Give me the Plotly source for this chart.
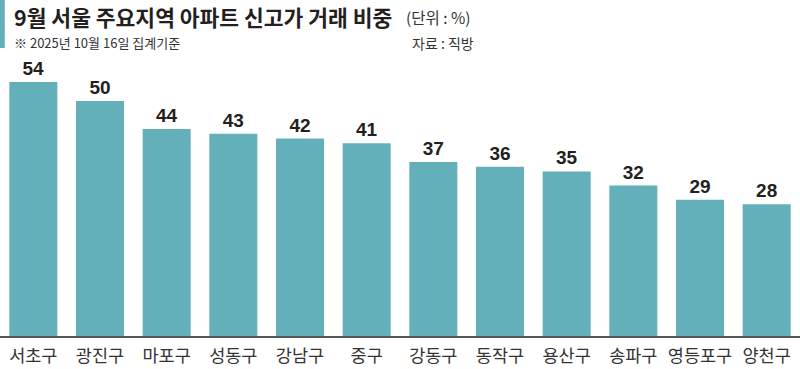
import plotly.graph_objects as go

districts = ["서초구", "광진구", "마포구", "성동구", "강남구", "중구",
             "강동구", "동작구", "용산구", "송파구", "영등포구", "양천구"]
shares = [54, 50, 44, 43, 42, 41, 37, 36, 35, 32, 29, 28]

title_text = "9월 서울 주요지역 아파트 신고가 거래 비중"
unit_text = "(단위 : %)"
note_text = "※ 2025년 10월 16일 집계기준"
source_text = "자료 : 직방"

FONT = "Noto Sans CJK KR"
H = 369
T, B = 60, 33
PH = H - T - B


def py(pix):
    return (H - B - pix) / PH


fig = go.Figure()
fig.add_trace(go.Bar(
    x=districts, y=shares,
    marker=dict(color="#63AFBA", line=dict(width=0)),
    text=["<b>%d</b>" % v for v in shares],
    textposition="outside",
    cliponaxis=False,
    textfont=dict(family="Liberation Sans, Arial", size=19, color="#231F20"),
    hoverinfo="skip",
))

fig.update_layout(
    width=800, height=H,
    margin=dict(l=0, r=0, t=T, b=B),
    paper_bgcolor="white", plot_bgcolor="white",
    bargap=0.28,
    showlegend=False,
    xaxis=dict(
        type="category",
        range=[-0.5, len(districts) - 0.5],
        showgrid=False, zeroline=False,
        showline=True, linecolor="#555555", linewidth=2,
        ticks="", tickfont=dict(family=FONT, size=17.5, color="#333333"),
        ticklabelstandoff=3,
    ),
    yaxis=dict(
        range=[0, 58.7], visible=False, showgrid=False, zeroline=False,
    ),
    shapes=[dict(type="rect", xref="paper", yref="paper",
                 x0=0, x1=0.006, y0=py(48), y1=py(0),
                 fillcolor="#63AFBA", line=dict(width=0), layer="above")],
    annotations=[
        dict(text="<b>" + title_text + "</b>", xref="paper", yref="paper",
             x=12 / 800, y=py(17), xanchor="left", yanchor="middle",
             showarrow=False, font=dict(family=FONT, size=21.5, color="#231F20")),
        dict(text=unit_text, xref="paper", yref="paper",
             x=404 / 800, y=py(17), xanchor="left", yanchor="middle",
             showarrow=False, font=dict(family=FONT, size=15.5, color="#333333")),
        dict(text=note_text, xref="paper", yref="paper",
             x=12 / 800, y=py(43), xanchor="left", yanchor="middle",
             showarrow=False, font=dict(family=FONT, size=13, color="#333333")),
        dict(text=source_text, xref="paper", yref="paper",
             x=476 / 800, y=py(43), xanchor="right", yanchor="middle",
             showarrow=False, font=dict(family=FONT, size=14, color="#333333")),
    ],
)

fig.write_html("out.html", config={"displayModeBar": False},
               post_script="document.body.style.margin='0';document.body.style.padding='0';")
